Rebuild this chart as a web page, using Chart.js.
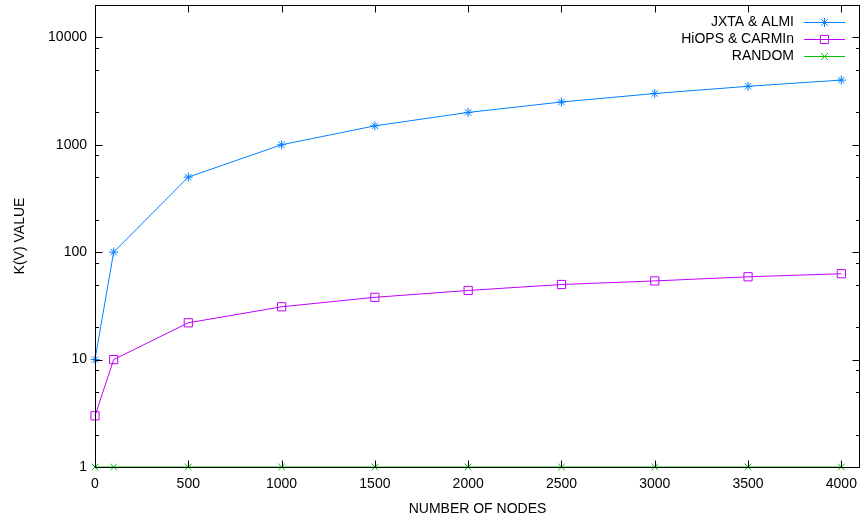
<!DOCTYPE html>
<html>
<head>
<meta charset="utf-8">
<style>
  html, body { margin: 0; padding: 0; background: #ffffff; }
  #wrap { width: 861px; height: 519px; }
  canvas { display: block; }
</style>
<script src="https://cdn.jsdelivr.net/npm/chart.js@4/dist/chart.umd.min.js"></script>
</head>
<body>
<div id="wrap"><canvas id="c" width="861" height="519"></canvas></div>
<script>
// ---- data ----
const nodes  = [0, 100, 500, 1000, 1500, 2000, 2500, 3000, 3500, 4000];
const jxtaAlmi = [10, 100, 500, 1000, 1500, 2000, 2500, 3000, 3500, 4000];
const hiopsCarmin = [3, 10, 22, 31, 38, 44, 50, 54, 59, 63];
const randomVals = [1, 1, 1, 1, 1, 1, 1, 1, 1, 1];
const seriesLabels = ['JXTA & ALMI', 'HiOPS & CARMIn', 'RANDOM'];
const xTickValues = [0, 500, 1000, 1500, 2000, 2500, 3000, 3500, 4000];
const yTickValues = [1, 10, 100, 1000, 10000];
const yMinorFactors = [2, 5, 8];
const xTitle = 'NUMBER OF NODES';
const yTitle = 'K(V) VALUE';

const FONT = '"Liberation Sans", Arial, Helvetica, sans-serif';
const COLORS = ['#0080ff', '#c000ff', '#00c000'];
const STYLES = ['star', 'rect', 'crossRot'];
const RADII = [4.5, 5.8, 4.7];

function toPoints(ys) { return nodes.map((x, i) => ({ x: x, y: ys[i] })); }

const datasets = [jxtaAlmi, hiopsCarmin, randomVals].map((vals, i) => ({
  label: seriesLabels[i],
  data: toPoints(vals),
  borderColor: COLORS[i],
  backgroundColor: 'rgba(0,0,0,0)',
  borderWidth: 1,
  pointStyle: STYLES[i],
  pointRadius: RADII[i],
  pointHoverRadius: RADII[i],
  pointBorderColor: COLORS[i],
  pointBackgroundColor: 'rgba(0,0,0,0)',
  pointBorderWidth: 1,
  tension: 0,
  clip: false
}));

function drawMarker(ctx, style, r, x, y) {
  ctx.beginPath();
  if (style === 'star' || style === 'cross') {
    ctx.moveTo(x - r, y); ctx.lineTo(x + r, y);
    ctx.moveTo(x, y - r); ctx.lineTo(x, y + r);
  }
  if (style === 'star' || style === 'crossRot') {
    const d = r * Math.SQRT1_2;
    ctx.moveTo(x - d, y - d); ctx.lineTo(x + d, y + d);
    ctx.moveTo(x - d, y + d); ctx.lineTo(x + d, y - d);
  }
  if (style === 'rect') {
    const s = r * Math.SQRT1_2;
    ctx.rect(x - s, y - s, 2 * s, 2 * s);
  }
  ctx.stroke();
}

function zeroPadding(scale) {
  scale.paddingLeft = 0; scale.paddingRight = 0;
  scale.paddingTop = 0; scale.paddingBottom = 0;
}

const framePlugin = {
  id: 'gpFrame',
  afterDatasetsDraw(chart) {
    const ctx = chart.ctx;
    const a = chart.chartArea;
    const xs = chart.scales.x, ys = chart.scales.y;
    const L = Math.round(a.left) + 0.5, R = Math.round(a.right) - 0.5;
    const T = Math.round(a.top) + 0.5, B = Math.round(a.bottom) + 0.5;
    ctx.save();
    ctx.strokeStyle = '#000';
    ctx.lineWidth = 1;
    ctx.beginPath();
    // x major ticks (bottom and top, inward)
    xTickValues.forEach(v => {
      const px = Math.round(xs.getPixelForValue(v)) + 0.5;
      ctx.moveTo(px, B); ctx.lineTo(px, B - 7);
      ctx.moveTo(px, T); ctx.lineTo(px, T + 7);
    });
    // y major ticks
    yTickValues.forEach(v => {
      const py = Math.round(ys.getPixelForValue(v)) + 0.5;
      ctx.moveTo(L, py); ctx.lineTo(L + 7, py);
      ctx.moveTo(R, py); ctx.lineTo(R - 7, py);
    });
    // y minor ticks
    yTickValues.forEach(v => {
      yMinorFactors.forEach(f => {
        const val = v * f;
        if (val >= ys.max) return;
        const py = Math.round(ys.getPixelForValue(val)) + 0.5;
        ctx.moveTo(L, py); ctx.lineTo(L + 3.5, py);
        ctx.moveTo(R, py); ctx.lineTo(R - 3.5, py);
      });
    });
    ctx.stroke();
    ctx.strokeRect(L, T, R - L, B - T);
    ctx.restore();
  },
  afterDraw(chart) {
    // gnuplot-style key, top right: label right-aligned, then sample line with marker
    const ctx = chart.ctx;
    const textRight = 794, lineL = 804, lineR = 845, y0 = 22, dy = 17;
    ctx.save();
    ctx.font = '14px ' + FONT;
    ctx.textAlign = 'right';
    ctx.textBaseline = 'middle';
    chart.data.datasets.forEach((ds, i) => {
      const y = y0 + i * dy;
      ctx.fillStyle = '#000';
      ctx.fillText(ds.label, textRight, y);
      ctx.strokeStyle = ds.borderColor;
      ctx.lineWidth = 1;
      ctx.beginPath();
      ctx.moveTo(lineL, y + 0.5); ctx.lineTo(lineR, y + 0.5);
      ctx.stroke();
      drawMarker(ctx, ds.pointStyle, ds.pointRadius, (lineL + lineR) / 2, y + 0.5);
    });
    ctx.restore();
  }
};

new Chart(document.getElementById('c'), {
  type: 'line',
  data: { datasets: datasets },
  plugins: [framePlugin],
  options: {
    responsive: false,
    devicePixelRatio: 1,
    animation: false,
    layout: { autoPadding: false, padding: { left: 0, right: 1, top: 5, bottom: 0 } },
    plugins: {
      legend: { display: false },
      tooltip: { enabled: false },
      title: { display: false }
    },
    scales: {
      x: {
        type: 'linear',
        min: 0,
        max: 4100,
        afterBuildTicks: (scale) => { scale.ticks = xTickValues.map(v => ({ value: v })); },
        afterFit: (scale) => { scale.height = 52; zeroPadding(scale); },
        grid: { display: false, drawTicks: false },
        border: { display: false },
        ticks: {
          color: '#000',
          font: { family: FONT, size: 14 },
          padding: 9,
          maxRotation: 0,
          autoSkip: false,
          callback: (v) => String(v)
        },
        title: {
          display: true,
          text: xTitle,
          color: '#000',
          font: { family: FONT, size: 14 },
          padding: { top: 0, bottom: 1 }
        }
      },
      y: {
        type: 'logarithmic',
        min: 1,
        max: 20000,
        afterBuildTicks: (scale) => { scale.ticks = yTickValues.map(v => ({ value: v })); },
        afterFit: (scale) => { scale.width = 95; zeroPadding(scale); },
        grid: { display: false, drawTicks: false },
        border: { display: false },
        ticks: {
          color: '#000',
          font: { family: FONT, size: 14 },
          padding: 8,
          autoSkip: false,
          callback: (v) => String(v)
        },
        title: {
          display: true,
          text: yTitle,
          color: '#000',
          font: { family: FONT, size: 14 },
          padding: { top: 12, bottom: 0 }
        }
      }
    }
  }
});
</script>
</body>
</html>
